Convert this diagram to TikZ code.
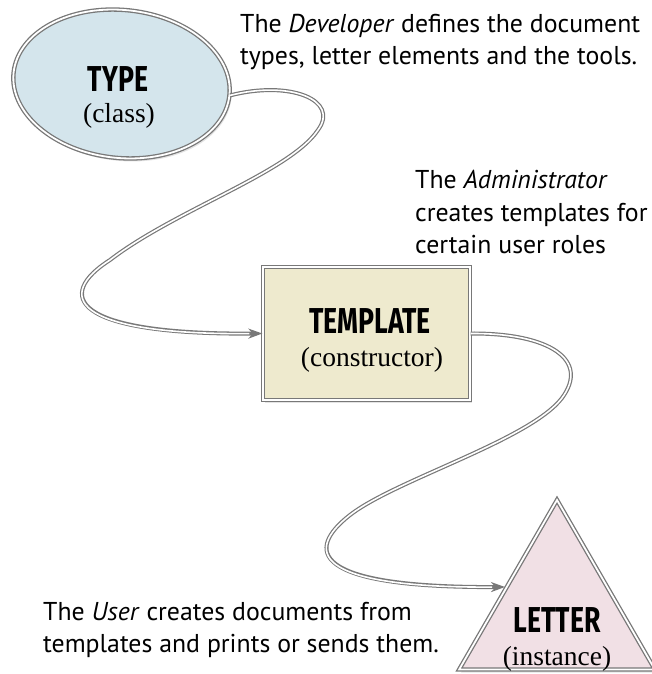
\documentclass[tikz,border=0pt]{standalone}
\usepackage{fontspec}
\setmainfont{PT Sans}
\newfontfamily\titlefont[FakeStretch=0.74]{Fira Sans}
\newfontfamily\subfont{Liberation Serif}
\usetikzlibrary{shapes.geometric,arrows.meta,shadows}

\definecolor{typefill}{RGB}{212,229,236}
\definecolor{tplfill}{RGB}{238,234,206}
\definecolor{letfill}{RGB}{241,224,229}
\definecolor{rim}{RGB}{120,120,120}

\tikzset{
  rimbox/.style={draw=rim, double=white, double distance=1.8pt, line width=1.3pt,
    drop shadow={opacity=0.22, shadow xshift=2pt, shadow yshift=-3pt}},
  titletxt/.style={anchor=base, inner sep=0pt, font=\titlefont\bfseries\fontsize{36}{36}\selectfont},
  subtxt/.style={anchor=base, inner sep=0pt, font=\subfont\fontsize{27.5}{27.5}\selectfont},
  bodytxt/.style={anchor=base west, inner sep=0pt, font=\fontsize{25.8}{30}\selectfont},
  pipe/.style={draw=rim, line width=4pt, -{Stealth[length=14pt,width=10pt]},
    postaction={draw=white, line width=1.6pt, -, shorten >=13pt}},
}

\begin{document}
\begin{tikzpicture}[x=1pt,y=-1pt]
\useasboundingbox (0,0) rectangle (651,674);

% nodes
\node[rimbox, ellipse, fill=typefill, minimum width=217pt, minimum height=148pt, inner sep=0pt, rotate=-6] (type) at (121.5,84) {};
\node[rimbox, rectangle, fill=tplfill, minimum width=207pt, minimum height=133pt, inner sep=0pt] (template) at (366.5,333.5) {};
\node[rimbox, regular polygon, regular polygon sides=3, fill=letfill, minimum size=226pt, inner sep=0pt] (letter) at (557,613) {};

% node texts
\node[titletxt] (typet) at (118,92) {TYPE};
\node[subtxt] (types) at (119,123) {(class)};
\node[titletxt] (tplt) at (370,333) {TEMPLATE};
\node[subtxt] (tpls) at (372,366) {(constructor)};
\node[titletxt] (lett) at (557,632) {LETTER};
\node[subtxt] (lets) at (557,665) {(instance)};

% connector end points
\coordinate (inT) at (template.west);
\coordinate (inL) at (505,587);

% connectors
\draw[pipe] (type.east) .. controls (290,80) and (340,100) .. (318,130)
  .. controls (290,172) and (175,210) .. (110,260)
  .. controls (55,295) and (70,335) .. (inT);
\draw[pipe] (template.east) .. controls (550,333) and (590,360) .. (562,398)
  .. controls (530,440) and (395,480) .. (350,515)
  .. controls (305,550) and (310,588) .. (inL);

% annotations
\node[bodytxt] (dev1) at (240,33) {The \textit{Developer} defines the document};
\node[bodytxt] (dev2) at (240,65) {types, letter elements and the tools.};
\node[bodytxt] (adm1) at (415,188) {The \textit{Administrator}};
\node[bodytxt] (adm2) at (415,221) {creates templates for};
\node[bodytxt] (adm3) at (415,253) {certain user roles};
\node[bodytxt] (usr1) at (43,620) {The \textit{User} creates documents from};
\node[bodytxt] (usr2) at (43,652) {templates and prints or sends them.};
\end{tikzpicture}
\end{document}
